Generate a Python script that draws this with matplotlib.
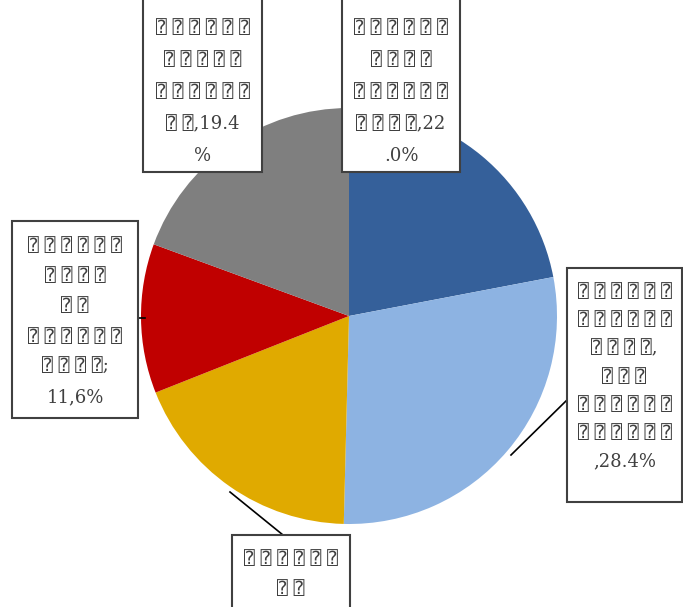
import numpy as np
import matplotlib
matplotlib.use("Agg")
import matplotlib.pyplot as plt
from matplotlib.patches import Rectangle

# shares, clockwise from 12 o'clock
shares = [22.0, 28.4, 18.6, 11.6, 19.4]
colors = ["#35609A", "#8DB3E2", "#E0AA00", "#C00000", "#7F7F7F"]

T = "\u2370"  # the labels came out as missing-glyph boxes


def tofu(n):
    return " ".join([T] * n)


# only the visible part of each label (the bottom one runs off the picture)
labels = [
    "\n".join([tofu(6), tofu(4), tofu(6), tofu(4) + ",22", ".0%"]),
    "\n".join([tofu(6), tofu(6), tofu(4) + ",", tofu(3), tofu(6), tofu(6), ",28.4%"]),
    "\n".join([tofu(6), tofu(2)]),
    "\n".join([tofu(6), tofu(4), tofu(2), tofu(6), tofu(4) + ";", "11,6%"]),
    "\n".join([tofu(6), tofu(5), tofu(6), tofu(2) + ",19.4", "%"]),
]

# label boxes in pixels (left, top, right, bottom), top measured from image top
boxes = [
    (342, -40, 460, 172),
    (567, 268, 682, 502),
    (232, 535, 350, 660),
    (12, 221, 138, 418),
    (143, -40, 262, 172),
]
text_top = [19, 283, 550, 237, 19]
spacing = [2.0, 1.73, 1.87, 1.87, 2.0]
# leader lines (pie point, box point)
leaders = [
    None,
    ((511, 455), (567, 400)),
    ((230, 492), (283, 535)),
    ((145, 318), (138, 318)),
    None,
]

W, H = 683, 607
fig = plt.figure(figsize=(W / 100, H / 100), dpi=100)
ax = fig.add_axes([0, 0, 1, 1])

ax.pie(shares, colors=colors, startangle=90, counterclock=False,
       center=(349, H - 316), radius=208, frame=True,
       wedgeprops=dict(linewidth=0))
ax.set_xlim(0, W)
ax.set_ylim(0, H)
ax.set_aspect("equal")
ax.axis("off")

for lab, (l, t, r, b), ty, ls, ld in zip(labels, boxes, text_top, spacing, leaders):
    if ld is not None:
        (x1, y1), (x2, y2) = ld
        ax.plot([x1, x2], [H - y1, H - y2], color="black", lw=1.2, zorder=3)
    ax.add_patch(Rectangle((l, H - b), r - l, b - t, facecolor="white",
                           edgecolor="#404040", lw=1.5, zorder=4))
    ax.text((l + r) / 2, H - ty, lab, ha="center", va="top", fontsize=13,
            color="#404040", linespacing=ls, zorder=5,
            family=["DejaVu Serif", "DejaVu Sans", "DejaVu Sans Mono"])

plt.savefig("out.png", dpi=100)
